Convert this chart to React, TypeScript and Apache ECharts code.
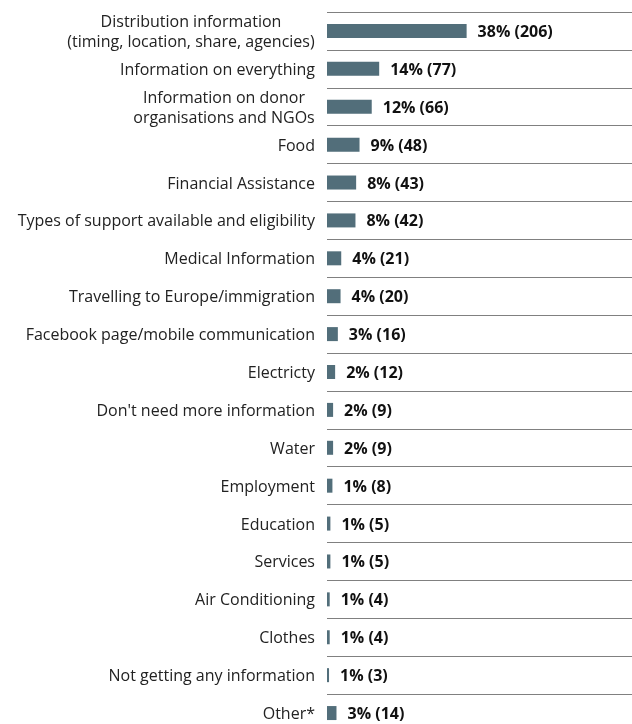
import React, { useEffect, useRef } from "react";
import * as echarts from "echarts";

const categories = [
  "Distribution information\n(timing, location, share, agencies)",
  "Information on everything",
  "Information on donor\norganisations and NGOs",
  "Food",
  "Financial Assistance",
  "Types of support available and eligibility",
  "Medical Information",
  "Travelling to Europe/immigration",
  "Facebook page/mobile communication",
  "Electricty",
  "Don't need more information",
  "Water",
  "Employment",
  "Education",
  "Services",
  "Air Conditioning",
  "Clothes",
  "Not getting any information",
  "Other*",
];
const counts = [206, 77, 66, 48, 43, 42, 21, 20, 16, 12, 9, 9, 8, 5, 5, 4, 4, 3, 14];
const percents = [38, 14, 12, 9, 8, 8, 4, 4, 3, 2, 2, 2, 1, 1, 1, 1, 1, 1, 3];

const FONT = '"Open Sans", sans-serif';
const FS = 16;

export default function App() {
  const ref = useRef<HTMLDivElement>(null);
  useEffect(() => {
    if (!ref.current) return;
    const chart = echarts.init(ref.current, undefined, { renderer: "svg" });
    const canvas = document.createElement("canvas");
    const ctx = canvas.getContext("2d")!;
    ctx.font = `${FS}px ${FONT}`;
    const rich: Record<string, any> = {};
    const labelMap: Record<string, string> = {};
    categories.forEach((c, i) => {
      if (c.includes("\n")) {
        const lines = c.split("\n");
        const w = Math.ceil(Math.max(...lines.map((l) => ctx.measureText(l).width)));
        const key = "w" + i;
        rich[key] = {
          width: w,
          align: "center",
          fontSize: FS,
          fontFamily: FONT,
          color: "#222",
          lineHeight: 20,
        };
        labelMap[c] = lines.map((l) => `{${key}|${l}}`).join("\n");
      }
    });
    chart.setOption({
      animation: false,
      grid: { left: 327, right: 0, top: 12, bottom: 0, containLabel: false },
      xAxis: {
        type: "value",
        min: 0,
        max: 450,
        show: false,
        splitLine: { show: false },
      },
      yAxis: {
        type: "category",
        data: categories,
        inverse: true,
        axisLine: { show: false },
        axisTick: { show: false },
        splitLine: { show: true, lineStyle: { color: "#808080", width: 1 } },
        axisLabel: {
          margin: 12,
          fontSize: FS,
          fontFamily: FONT,
          color: "#222",
          lineHeight: 20,
          formatter: (v: string) => labelMap[v] ?? v,
          rich,
        },
      },
      series: [
        {
          type: "bar",
          data: counts,
          barWidth: 14,
          itemStyle: { color: "#526e7a" },
          label: {
            show: true,
            position: "right",
            distance: 11,
            fontFamily: FONT,
            fontSize: FS,
            fontWeight: "bold",
            color: "#111",
            formatter: (p: any) => `${percents[p.dataIndex]}% (${counts[p.dataIndex]})`,
          },
        },
      ],
    });
    return () => chart.dispose();
  }, []);
  return (
    <div
      ref={ref}
      style={{ position: "fixed", left: 0, top: 0, width: 632, height: 732 }}
    />
  );
}
